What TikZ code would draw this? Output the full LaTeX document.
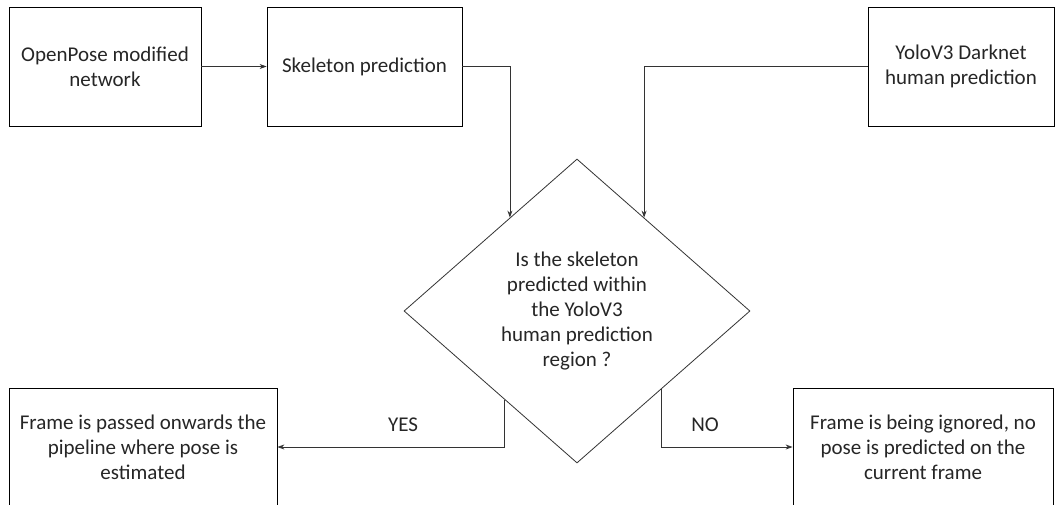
\documentclass[tikz,border=0pt]{standalone}
\usepackage{fontspec}
\setmainfont{Carlito}
\usetikzlibrary{arrows.meta,shapes.geometric,calc}
\begin{document}
\begin{tikzpicture}[x=1pt,y=-1pt,
  every node/.style={font=\fontsize{21pt}{25pt}\selectfont, text=black!85},
  box/.style={draw=black, line width=0.8pt, inner sep=0pt, align=center},
  dia/.style={draw=black!80, line width=0.8pt, diamond, inner sep=0pt, align=center,
              minimum width=346pt, minimum height=304pt},
  conn/.style={draw=black!80, line width=0.8pt, -{Stealth[length=7pt,width=5pt]}},
  lbl/.style={inner sep=0pt}]
\useasboundingbox (0,0) rectangle (1055,504);
\fill[white] (0,0) rectangle (1055,504);
\node[box, minimum width=192pt, minimum height=119pt] (A) at (105,66.5) {OpenPose modified\\network};
\node[box, minimum width=195pt, minimum height=119pt] (B) at (364.5,66.5) {Skeleton prediction};
\node[box, minimum width=186pt, minimum height=119pt] (C) at (961,66.5) {YoloV3 Darknet\\human prediction};
\node[dia] (Q) at (577,311) {Is the skeleton\\predicted within\\the YoloV3\\human prediction\\region ?};
\node[box, minimum width=268pt, minimum height=118pt] (D) at (143,447) {Frame is passed onwards the\\pipeline where pose is\\estimated};
\node[box, minimum width=260pt, minimum height=118pt] (E) at (923,447) {Frame is being ignored, no\\pose is predicted on the\\current frame};
\coordinate (qin1) at ($(Q.north)!0.387!(Q.west)$);
\coordinate (qin2) at ($(Q.north)!0.387!(Q.east)$);
\coordinate (qyes) at ($(Q.south)!0.416!(Q.west)$);
\coordinate (qno) at ($(Q.south)!0.486!(Q.east)$);
\draw[conn] (A.east) -- (B.west);
\draw[conn] (B.east) -| (qin1);
\draw[conn] (C.west) -| (qin2);
\draw[conn] (qyes) |- (D.east);
\draw[conn] (qno) |- (E.west);
\node[lbl] (yes) at (403,425) {YES};
\node[lbl] (no) at (705,425) {NO};
\end{tikzpicture}
\end{document}
